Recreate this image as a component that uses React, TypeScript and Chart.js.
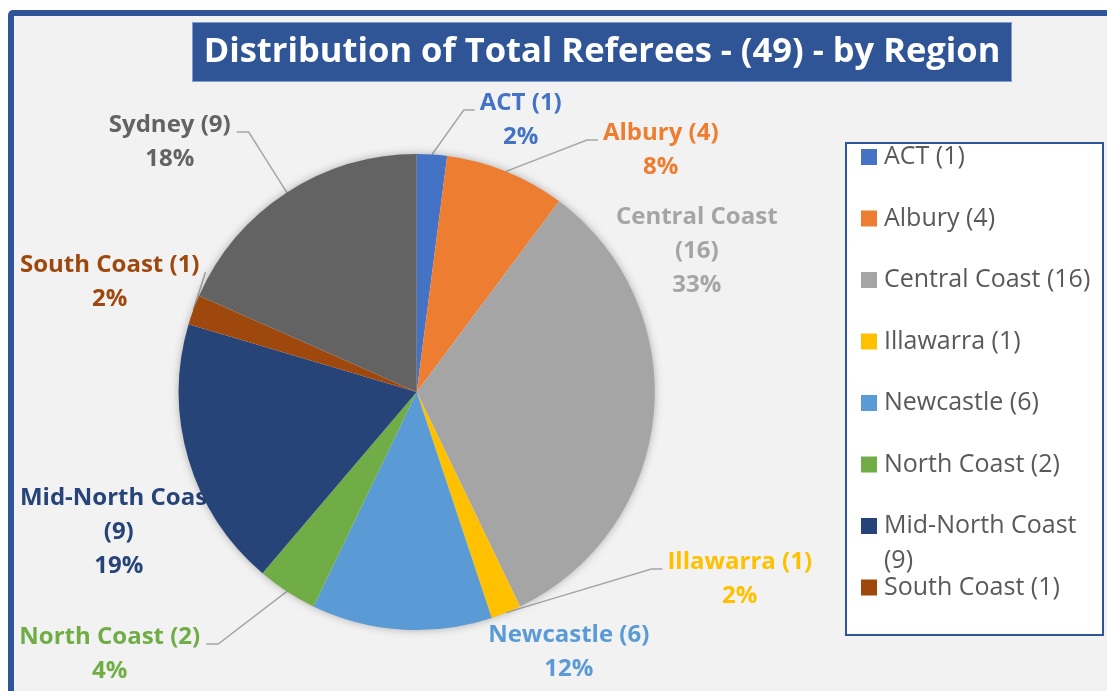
import React, { useEffect, useRef } from 'react';
import { Chart, registerables } from 'chart.js';

Chart.register(...registerables);

const categories = ['ACT', 'Albury', 'Central Coast', 'Illawarra', 'Newcastle', 'North Coast', 'Mid-North Coast', 'South Coast', 'Sydney'];
const referees = [1, 4, 16, 1, 6, 2, 9, 1, 9];
const percentLabels = ['2%', '8%', '33%', '2%', '12%', '4%', '19%', '2%', '18%'];
const sliceColors = ['#4472C4', '#ED7D31', '#A5A5A5', '#FFC000', '#5B9BD5', '#70AD47', '#264478', '#9E480E', '#636363'];
const titleText = 'Distribution of Total Referees - (49) - by Region';

// layout of the data labels: offset of the first text line's centre from the pie centre
const labelOffsets: number[][] = [[104, -289], [244, -259], [280, -175], [323, 170], [152, 243], [-307, 245], [-298, 106], [-307, -127], [-247, -267]];
const leaderShown = [true, true, false, true, false, true, false, true, true];

const W = 1107;
const H = 691;
const FRAME_BLUE = '#2F5597';
const LABEL_FONT = 'bold 24px "Open Sans"';
const LEGEND_FONT = '25px "Open Sans"';
const TITLE_FONT = 'bold 34.5px "Open Sans"';

function itemText(i: number) {
  return `${categories[i]} (${referees[i]})`;
}

const decorPlugin = {
  id: 'decor',
  beforeDraw(chart: any) {
    const ctx: CanvasRenderingContext2D = chart.ctx;
    ctx.save();
    ctx.fillStyle = '#ffffff';
    ctx.fillRect(0, 0, W, H);
    // outer frame
    ctx.fillStyle = FRAME_BLUE;
    ctx.beginPath();
    (ctx as any).roundRect(8, 10, W + 40, H + 40, 5);
    ctx.fill();
    ctx.fillStyle = '#F2F2F2';
    ctx.fillRect(14, 16, W, H);
    // title box
    ctx.fillStyle = FRAME_BLUE;
    ctx.fillRect(192, 22, 820, 60);
    ctx.strokeStyle = '#7F9CD0';
    ctx.lineWidth = 1;
    ctx.strokeRect(192.5, 22.5, 819, 59);
    ctx.fillStyle = '#ffffff';
    ctx.font = TITLE_FONT;
    ctx.textAlign = 'center';
    ctx.textBaseline = 'middle';
    ctx.fillText(titleText, 602, 52);

    // legend box
    const bx = 846, by = 143, bw = 257, bh = 492;
    ctx.fillStyle = '#ffffff';
    ctx.fillRect(bx, by, bw, bh);
    ctx.strokeStyle = FRAME_BLUE;
    ctx.lineWidth = 2;
    ctx.strokeRect(bx, by, bw, bh);
    ctx.save();
    ctx.beginPath();
    ctx.rect(bx + 1, by + 1, bw - 2, bh - 2);
    ctx.clip();
    ctx.font = LEGEND_FONT;
    ctx.textAlign = 'left';
    ctx.textBaseline = 'middle';
    const maxW = 216;
    categories.forEach((_, i) => {
      const yc = 157 + 61.5 * i;
      ctx.fillStyle = sliceColors[i];
      ctx.fillRect(861, yc - 8, 16, 16);
      ctx.fillStyle = '#595959';
      const full = itemText(i);
      if (ctx.measureText(full).width > maxW) {
        ctx.fillText(categories[i], 884, yc);
        ctx.fillText(`(${referees[i]})`, 884, yc + 35);
      } else {
        ctx.fillText(full, 884, yc);
      }
    });
    ctx.restore();
    ctx.restore();
  },
  beforeDatasetsDraw(chart: any) {
    const ctx: CanvasRenderingContext2D = chart.ctx;
    const meta = chart.getDatasetMeta(0);
    const first = meta.data[0];
    const cx = first.x, cy = first.y, r = first.outerRadius;
    ctx.save();
    ctx.font = LABEL_FONT;
    ctx.textAlign = 'center';
    ctx.textBaseline = 'middle';
    meta.data.forEach((arc: any, i: number) => {
      const lx = cx + labelOffsets[i][0];
      const ly = cy + labelOffsets[i][1];
      const full = itemText(i);
      const lines = ctx.measureText(full).width > 200
        ? [categories[i], `(${referees[i]})`, percentLabels[i]]
        : [full, percentLabels[i]];
      const w = ctx.measureText(lines[0]).width;
      if (leaderShown[i]) {
        const a = (arc.startAngle + arc.endAngle) / 2;
        const px = cx + Math.cos(a) * r;
        const py = cy + Math.sin(a) * r;
        const yh = ly + 7;
        ctx.strokeStyle = '#A6A6A6';
        ctx.lineWidth = 1.5;
        ctx.beginPath();
        ctx.moveTo(px, py);
        if (lx > px) {
          const endX = lx - w / 2 - 5;
          const elbowX = endX - 11;
          if (px < elbowX) ctx.lineTo(elbowX, yh);
          ctx.lineTo(endX, yh);
        } else {
          const endX = lx + w / 2 + 6;
          const elbowX = endX + 12;
          if (px > elbowX) ctx.lineTo(elbowX, yh);
          ctx.lineTo(endX, yh);
        }
        ctx.stroke();
      }
      ctx.fillStyle = sliceColors[i];
      lines.forEach((t, k) => ctx.fillText(t, lx, ly + k * 34));
    });
    // soft shadow under the pie
    ctx.shadowColor = 'rgba(0,0,0,0.35)';
    ctx.shadowBlur = 10;
    ctx.fillStyle = '#F2F2F2';
    ctx.beginPath();
    ctx.arc(cx, cy, r - 1, 0, Math.PI * 2);
    ctx.fill();
    ctx.restore();
  },
};

export default function App() {
  const ref = useRef<HTMLCanvasElement | null>(null);
  useEffect(() => {
    if (!ref.current) return;
    const chart = new Chart(ref.current, {
      type: 'pie',
      data: {
        labels: categories,
        datasets: [{
          data: referees,
          backgroundColor: sliceColors,
          borderWidth: 0,
          hoverOffset: 0,
        }],
      },
      options: {
        responsive: false,
        animation: false,
        layout: { padding: { left: 178.5, right: 452, top: 154, bottom: 61 } },
        plugins: {
          legend: { display: false },
          tooltip: { enabled: false },
          title: { display: false },
        },
      },
      plugins: [decorPlugin],
    });
    return () => chart.destroy();
  }, []);
  return (
    <div style={{ position: 'absolute', left: 0, top: 0, width: W, height: H }}>
      <canvas ref={ref} width={W} height={H} style={{ display: 'block', width: W, height: H }} />
    </div>
  );
}
